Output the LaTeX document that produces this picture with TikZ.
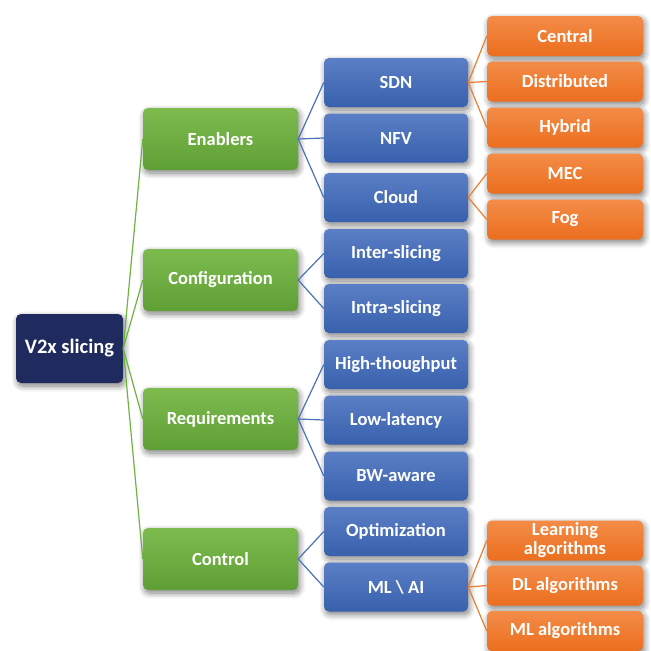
\documentclass[tikz,border=0pt]{standalone}
\usepackage{fontspec}
\setmainfont{Carlito}
\usetikzlibrary{shadows.blur}
\definecolor{navy}{HTML}{1F2A5E}
\definecolor{gtop}{HTML}{7DBB4F}
\definecolor{gbot}{HTML}{5E9F35}
\definecolor{btop}{HTML}{5B7FC6}
\definecolor{bbot}{HTML}{3860AC}
\definecolor{otop}{HTML}{F38C48}
\definecolor{obot}{HTML}{EC6E1E}
\definecolor{gline}{HTML}{6DB33F}
\definecolor{bline}{HTML}{4A72B8}
\definecolor{oline}{HTML}{ED7D31}
\tikzset{
  boxbase/.style={rounded corners=5pt, inner sep=0pt, text=white, align=center,
    font=\bfseries\fontsize{18.5}{19}\selectfont,
    blur shadow={shadow blur steps=8, shadow xshift=1.5pt, shadow yshift=-3pt, shadow blur radius=6pt, shadow opacity=50}},
  rootbox/.style={boxbase, fill=navy, minimum width=107pt, minimum height=69pt, font=\bfseries\fontsize{20.5}{22}\selectfont},
  gbox/.style={boxbase, top color=gtop, bottom color=gbot, minimum width=155pt, minimum height=62pt},
  bbox/.style={boxbase, top color=btop, bottom color=bbot, minimum width=144pt, minimum height=49pt},
  obox/.style={boxbase, top color=otop, bottom color=obot, minimum width=156pt, minimum height=40pt},
  gl/.style={draw=gline, line width=1.2pt},
  bl/.style={draw=bline, line width=1.2pt},
  ol/.style={draw=oline, line width=1.2pt}
}
\begin{document}
\begin{tikzpicture}[x=1pt,y=-1pt]
\useasboundingbox (0,0) rectangle (651,651);
\node[rootbox] (root) at (69.5,348.5) {V2x slicing};
\node[gbox] (en) at (220.5,139) {Enablers};
\node[gbox] (cf) at (220.5,280) {Configuration};
\node[gbox] (rq) at (220.5,419) {Requirements};
\node[gbox] (ct) at (220.5,559) {Control};
\node[bbox] (sdn) at (396,82.5) {SDN};
\node[bbox] (nfv) at (396,138) {NFV};
\node[bbox] (cld) at (396,197.5) {Cloud};
\node[bbox] (inter) at (396,253.5) {Inter-slicing};
\node[bbox] (intra) at (396,308.5) {Intra-slicing};
\node[bbox] (high) at (396,364.5) {High-thoughput};
\node[bbox] (low) at (396,420) {Low-latency};
\node[bbox] (bw) at (396,476) {BW-aware};
\node[bbox] (opt) at (396,531.5) {Optimization};
\node[bbox] (ml) at (396,587) {ML \textbackslash{} AI};
\node[obox] (cen) at (565,36) {Central};
\node[obox] (dis) at (565,81.5) {Distributed};
\node[obox] (hyb) at (565,127.5) {Hybrid};
\node[obox] (mec) at (565,173.5) {MEC};
\node[obox] (fog) at (565,219.5) {Fog};
\node[obox] (lrn) at (565,540.5) {Learning\\algorithms};
\node[obox] (dl) at (565,585.5) {DL algorithms};
\node[obox] (mla) at (565,631) {ML algorithms};
\foreach \c in {en,cf,rq,ct} \draw[gl] (root.east) -- (\c.west);
\foreach \c in {sdn,nfv,cld} \draw[bl] (en.east) -- (\c.west);
\foreach \c in {inter,intra} \draw[bl] (cf.east) -- (\c.west);
\foreach \c in {high,low,bw} \draw[bl] (rq.east) -- (\c.west);
\foreach \c in {opt,ml} \draw[bl] (ct.east) -- (\c.west);
\foreach \c in {cen,dis,hyb} \draw[ol] (sdn.east) -- (\c.west);
\foreach \c in {mec,fog} \draw[ol] (cld.east) -- (\c.west);
\foreach \c in {lrn,dl,mla} \draw[ol] (ml.east) -- (\c.west);
\end{tikzpicture}
\end{document}
